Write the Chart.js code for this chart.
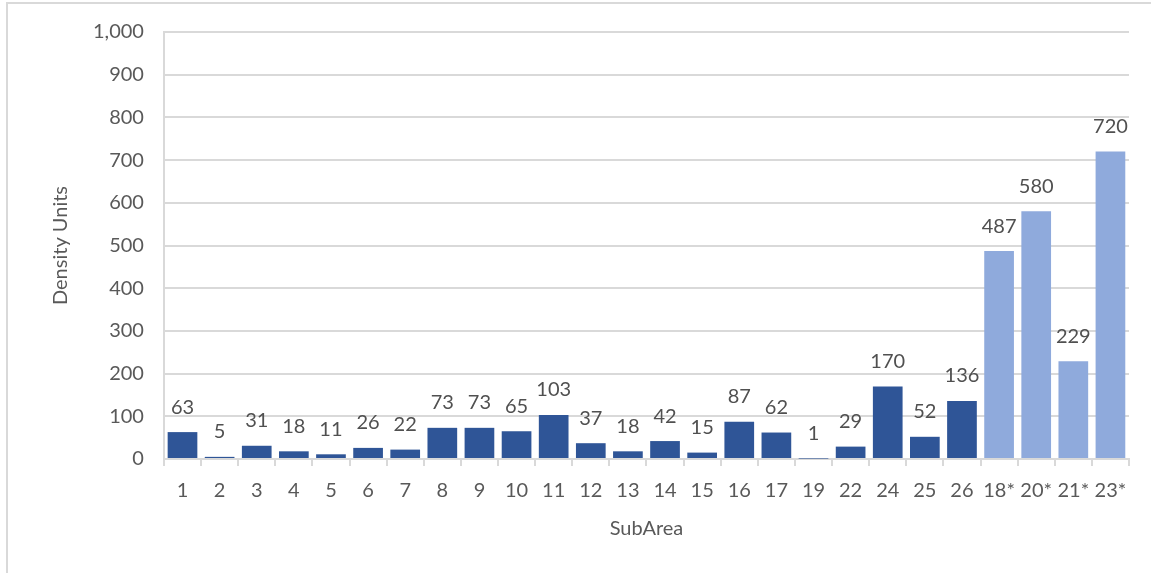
<!DOCTYPE html>
<html lang="en">
<head>
    <meta charset="UTF-8">
    <title>Density Units by SubArea</title>
    <script src="https://cdn.jsdelivr.net/npm/chart.js"></script>
    <style>
        * {
            margin: 0;
            padding: 0;
            box-sizing: border-box;
        }

        body {
            background-color: white;
            width: 1151px;
            height: 573px;
            overflow: hidden;
        }

        .frame {
            position: absolute;
            left: 6px;
            top: 2px;
            width: 1160px;
            height: 600px;
            border: 2px solid #d9d9d9;
        }

        .chart-container {
            position: absolute;
            left: 0;
            top: 0;
            width: 1151px;
            height: 573px;
        }
    </style>
</head>
<body>
    <div class="frame"></div>
    <div class="chart-container">
        <canvas id="densityChart"></canvas>
    </div>

    <script>
        // Chart data
        const subAreas = ['1', '2', '3', '4', '5', '6', '7', '8', '9', '10', '11', '12', '13',
            '14', '15', '16', '17', '19', '22', '24', '25', '26', '18*', '20*', '21*', '23*'];
        const densityUnits = [63, 5, 31, 18, 11, 26, 22, 73, 73, 65, 103, 37, 18,
            42, 15, 87, 62, 1, 29, 170, 52, 136, 487, 580, 229, 720];
        const yTicks = [0, 100, 200, 300, 400, 500, 600, 700, 800, 900, 1000];

        const DARK = '#2F5597';
        const LIGHT = '#8FAADC';
        const TEXT = '#595959';
        const FONT = 'Lato, "Open Sans", sans-serif';

        // starred sub-areas get the light colour
        const barColors = subAreas.map(s => s.endsWith('*') ? LIGHT : DARK);

        // draws the value above each bar
        const valueLabels = {
            id: 'valueLabels',
            afterDatasetsDraw(chart) {
                const ctx = chart.ctx;
                const meta = chart.getDatasetMeta(0);
                ctx.save();
                ctx.font = '20px ' + FONT;
                ctx.fillStyle = '#505050';
                ctx.textAlign = 'center';
                ctx.textBaseline = 'bottom';
                meta.data.forEach((bar, i) => {
                    ctx.fillText(densityUnits[i].toLocaleString('en-US'), bar.x, bar.y - 15);
                });
                ctx.restore();
            }
        };

        const ctx = document.getElementById('densityChart').getContext('2d');
        new Chart(ctx, {
            type: 'bar',
            data: {
                labels: subAreas,
                datasets: [{
                    label: 'Density Units',
                    data: densityUnits,
                    backgroundColor: barColors,
                    borderWidth: 0,
                    barPercentage: 0.8,
                    categoryPercentage: 1.0
                }]
            },
            options: {
                responsive: true,
                maintainAspectRatio: false,
                animation: false,
                layout: {
                    padding: { top: 22, right: 22, left: 49, bottom: 28 }
                },
                plugins: {
                    legend: { display: false },
                    tooltip: { enabled: false }
                },
                scales: {
                    x: {
                        offset: true,
                        grid: {
                            offset: true,
                            drawOnChartArea: false,
                            drawTicks: true,
                            tickLength: 7,
                            color: '#d9d9d9',
                            lineWidth: 2
                        },
                        border: { color: '#d9d9d9', width: 2 },
                        ticks: {
                            color: TEXT,
                            font: { family: FONT, size: 20 },
                            padding: 13,
                            maxRotation: 0,
                            autoSkip: false
                        },
                        title: {
                            display: true,
                            text: 'SubArea',
                            color: TEXT,
                            font: { family: FONT, size: 20 },
                            padding: { top: 1 }
                        }
                    },
                    y: {
                        min: 0,
                        max: 1000,
                        afterBuildTicks(axis) {
                            axis.ticks = yTicks.map(v => ({ value: v }));
                        },
                        grid: {
                            color: '#d9d9d9',
                            lineWidth: 2,
                            drawTicks: false
                        },
                        border: { color: '#d9d9d9', width: 2 },
                        ticks: {
                            color: TEXT,
                            font: { family: FONT, size: 20 },
                            padding: 20,
                            callback: v => v.toLocaleString('en-US')
                        },
                        title: {
                            display: true,
                            text: 'Density Units',
                            color: TEXT,
                            font: { family: FONT, size: 20 },
                            padding: { top: 0, bottom: 0 }
                        }
                    }
                }
            },
            plugins: [valueLabels]
        });
    </script>
</body>
</html>
